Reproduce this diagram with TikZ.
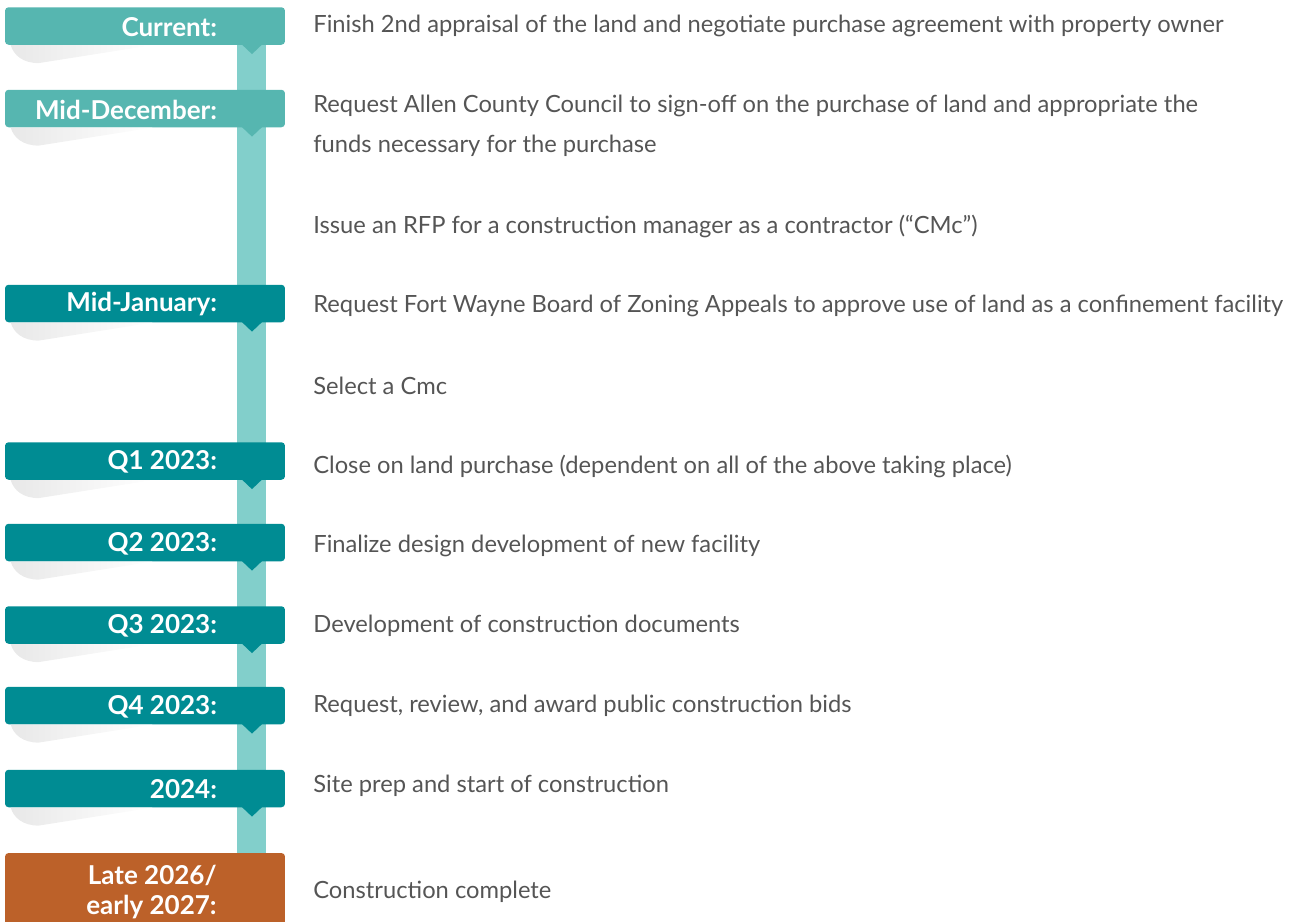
\documentclass[tikz,border=0pt]{standalone}
\usepackage{fontspec}
\setmainfont{Lato}
\usetikzlibrary{positioning,calc}
\definecolor{lightteal}{HTML}{56B6B0}
\definecolor{darkteal}{HTML}{008C93}
\definecolor{rust}{HTML}{BC6129}
\definecolor{barteal}{HTML}{82CFCB}
\definecolor{desctext}{HTML}{555555}
\tikzset{
  pointer/.pic={\path[pic actions] (-10,-0.5) -- (0,9) -- (10,-0.5) -- cycle;},
  dropshade/.pic={\shade[left color=black!9, right color=white]
    (6,0) .. controls (9,10) and (18,18) .. (34,18) -- (148,0) -- cycle;}
}
\begin{document}
\begin{tikzpicture}[x=0.02cm, y=-0.02cm,
    tbox/.style={rectangle, rounded corners=2pt, minimum width=5.6cm,
      minimum height=0.75cm, inner sep=0pt},
    tlabel/.style={anchor=east, text=white, inner sep=0pt, align=right,
      font=\fontsize{14.8}{17}\selectfont\bfseries},
    desc/.style={anchor=west, text=desctext, inner sep=0pt, align=left,
      font=\fontsize{13.5}{22.7}\selectfont}
  ]
  \useasboundingbox (0,0) rectangle (1295,921);
  \fill[barteal] (237,40) rectangle (266,860);

  \node[tbox, fill=lightteal] (b1) at (145,26) {};
  \node[tbox, fill=lightteal] (b2) at (145,108.5) {};
  \node[tbox, fill=darkteal] (b3) at (145,303.5) {};
  \node[tbox, fill=darkteal] (b4) at (145,461) {};
  \node[tbox, fill=darkteal] (b5) at (145,542.5) {};
  \node[tbox, fill=darkteal] (b6) at (145,625) {};
  \node[tbox, fill=darkteal] (b7) at (145,705.5) {};
  \node[tbox, fill=darkteal] (b8) at (145,788.5) {};
  \node[tbox, fill=rust, minimum height=1.7cm] (b9) at (145,895.5) {};

  \pic at (b1.south west) {dropshade};
  \pic at (b2.south west) {dropshade};
  \pic at (b3.south west) {dropshade};
  \pic at (b4.south west) {dropshade};
  \pic at (b5.south west) {dropshade};
  \pic at (b6.south west) {dropshade};
  \pic at (b7.south west) {dropshade};
  \pic at (b8.south west) {dropshade};

  \pic[fill=lightteal] at ([xshift=2.14cm]b1.south) {pointer};
  \pic[fill=lightteal] at ([xshift=2.14cm]b2.south) {pointer};
  \pic[fill=darkteal] at ([xshift=2.14cm]b3.south) {pointer};
  \pic[fill=darkteal] at ([xshift=2.14cm]b4.south) {pointer};
  \pic[fill=darkteal] at ([xshift=2.14cm]b5.south) {pointer};
  \pic[fill=darkteal] at ([xshift=2.14cm]b6.south) {pointer};
  \pic[fill=darkteal] at ([xshift=2.14cm]b7.south) {pointer};
  \pic[fill=darkteal] at ([xshift=2.14cm]b8.south) {pointer};

  \node[tlabel] (l1) at ([xshift=-1.36cm,yshift=-0.02cm]b1.east) {Current:};
  \node[tlabel] (l2) at ([xshift=-1.36cm,yshift=-0.02cm]b2.east) {Mid-December:};
  \node[tlabel] (l3) at ([xshift=-1.36cm,yshift=-0.02cm]b3.east) {Mid-January:};
  \node[tlabel] (l4) at ([xshift=-1.36cm,yshift=-0.02cm]b4.east) {Q1 2023:};
  \node[tlabel] (l5) at ([xshift=-1.36cm,yshift=-0.02cm]b5.east) {Q2 2023:};
  \node[tlabel] (l6) at ([xshift=-1.36cm,yshift=-0.02cm]b6.east) {Q3 2023:};
  \node[tlabel] (l7) at ([xshift=-1.36cm,yshift=-0.02cm]b7.east) {Q4 2023:};
  \node[tlabel] (l8) at ([xshift=-1.36cm,yshift=-0.02cm]b8.east) {2024:};
  \node[tlabel] (l9) at (217,892) {Late 2026/\\early 2027:};

  \node[desc] (d1) at (313,26) {Finish 2nd appraisal of the land and negotiate purchase agreement with property owner};
  \node[desc] (d2) at (313,126) {Request Allen County Council to sign-off on the purchase of land and appropriate the\\funds necessary for the purchase};
  \node[desc] (d3) at (313,226) {Issue an RFP for a construction manager as a contractor (“CMc”)};
  \node[desc] (d4) at (313,306) {Request Fort Wayne Board of Zoning Appeals to approve use of land as a confinement facility};
  \node[desc] (d5) at (313,386) {Select a Cmc};
  \node[desc] (d6) at (313,466) {Close on land purchase (dependent on all of the above taking place)};
  \node[desc] (d7) at (313,546) {Finalize design development of new facility};
  \node[desc] (d8) at (313,626) {Development of construction documents};
  \node[desc] (d9) at (313,706) {Request, review, and award public construction bids};
  \node[desc] (d10) at (313,786) {Site prep and start of construction};
  \node[desc] (d11) at (313,892) {Construction complete};
\end{tikzpicture}
\end{document}
